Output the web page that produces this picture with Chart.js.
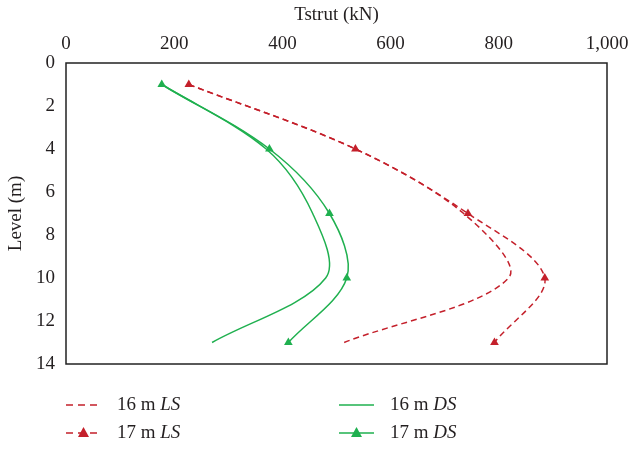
<!DOCTYPE html>
<html>
<head>
<meta charset="utf-8">
<script src="https://cdn.jsdelivr.net/npm/chart.js@4"></script>
<style>
  html, body { margin: 0; padding: 0; background: #fff; }
  #wrap { width: 634px; height: 450px; }
</style>
</head>
<body>
<div id="wrap"><canvas id="strutChart" width="634" height="450"></canvas></div>
<script>
// Tstrut vs level, LS / DS cases
const levels = [1, 4, 7, 10, 13];
const ls16 = [227, 535, 735, 818, 514];
const ls17 = [227, 535, 743, 885, 792];
const ds16 = [177, 370, 456, 480, 270];
const ds17 = [177, 376, 487, 519, 411];
const xTicks = [0, 200, 400, 600, 800, 1000];
const yTicks = [0, 2, 4, 6, 8, 10, 12, 14];

const RED = "#c4202b";
const GREEN = "#1fb04f";
const FONT = "'Liberation Serif', 'DejaVu Serif', serif";

function pts(vals) {
  return vals.map((v, i) => ({ x: v, y: levels[i] }));
}

function series(label, tag, vals, color, dashed, marker) {
  return {
    label: label,
    tag: tag,
    data: pts(vals),
    showLine: true,
    borderColor: color,
    backgroundColor: color,
    borderWidth: 1.5,
    borderDash: dashed ? [6, 4] : [],
    tension: 0.33,
    pointStyle: "triangle",
    pointRadius: marker ? 5 : 0,
    pointHoverRadius: marker ? 5 : 0,
    pointBorderWidth: 0,
  };
}

// box round the plot area + two-column legend below
const framePlugin = {
  id: "frame",
  afterDraw(chart) {
    const { ctx, chartArea: a } = chart;
    ctx.save();
    ctx.strokeStyle = "#222";
    ctx.lineWidth = 1.5;
    ctx.strokeRect(a.left, a.top, a.right - a.left, a.bottom - a.top);

    const cols = [66, 339];
    const rows = [405, 433];
    chart.data.datasets.forEach((ds, k) => {
      const x = cols[Math.floor(k / 2)];
      const y = rows[k % 2];
      ctx.strokeStyle = ds.borderColor;
      ctx.lineWidth = ds.borderWidth;
      ctx.setLineDash(ds.borderDash.length ? [7, 5] : []);
      ctx.beginPath();
      ctx.moveTo(x, y);
      ctx.lineTo(x + 35, y);
      ctx.stroke();
      ctx.setLineDash([]);
      if (ds.pointRadius > 0) {
        ctx.fillStyle = ds.backgroundColor;
        ctx.beginPath();
        ctx.moveTo(x + 17.5, y - 6);
        ctx.lineTo(x + 23, y + 4);
        ctx.lineTo(x + 12, y + 4);
        ctx.closePath();
        ctx.fill();
      }
      ctx.fillStyle = "#231f20";
      ctx.textBaseline = "middle";
      ctx.font = "19px " + FONT;
      ctx.fillText(ds.label, x + 51, y);
      const w = ctx.measureText(ds.label).width;
      ctx.font = "italic 19px " + FONT;
      ctx.fillText(ds.tag, x + 51 + w, y);
    });
    ctx.restore();
  },
};

const ctx = document.getElementById("strutChart").getContext("2d");

new Chart(ctx, {
  type: "scatter",
  data: {
    datasets: [
      series("16 m ", "LS", ls16, RED, true, false),
      series("17 m ", "LS", ls17, RED, true, true),
      series("16 m ", "DS", ds16, GREEN, false, false),
      series("17 m ", "DS", ds17, GREEN, false, true),
    ],
  },
  options: {
    responsive: false,
    animation: false,
    layout: { padding: { left: 0, right: 27, top: 0, bottom: 86 } },
    plugins: {
      legend: { display: false },
      tooltip: { enabled: false },
    },
    scales: {
      x: {
        type: "linear",
        position: "top",
        min: 0,
        max: 1000,
        afterBuildTicks: (s) => { s.ticks = xTicks.map((v) => ({ value: v })); },
        afterFit: (s) => { s.height = 63; },
        grid: { display: false },
        border: { display: false },
        ticks: {
          color: "#231f20",
          font: { family: FONT, size: 19 },
          padding: 0,
          callback: (v) => v.toLocaleString("en-US"),
        },
        title: {
          display: true,
          text: "Tstrut (kN)",
          color: "#231f20",
          font: { family: FONT, size: 19 },
          padding: { top: 4, bottom: 4 },
        },
      },
      y: {
        type: "linear",
        reverse: true,
        min: 0,
        max: 14,
        afterBuildTicks: (s) => { s.ticks = yTicks.map((v) => ({ value: v })); },
        afterFit: (s) => { s.width = 66; },
        grid: { display: false },
        border: { display: false },
        ticks: {
          color: "#231f20",
          font: { family: FONT, size: 19 },
          padding: 3,
        },
        title: {
          display: true,
          text: "Level (m)",
          color: "#231f20",
          font: { family: FONT, size: 19 },
          padding: { top: 5, bottom: 0 },
        },
      },
    },
  },
  plugins: [framePlugin],
});
</script>
</body>
</html>
